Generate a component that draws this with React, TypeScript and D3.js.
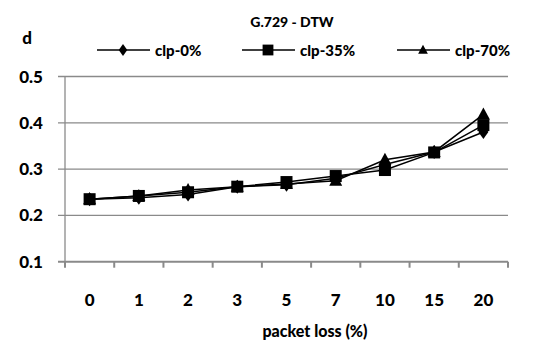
import React from 'react';
import * as d3 from 'd3';

const categories = ['0', '1', '2', '3', '5', '7', '10', '15', '20'];
const clp0 = [0.235, 0.238, 0.245, 0.262, 0.266, 0.28, 0.31, 0.337, 0.38];
const clp35 = [0.235, 0.242, 0.25, 0.262, 0.272, 0.285, 0.298, 0.336, 0.395];
const clp70 = [0.235, 0.242, 0.255, 0.262, 0.268, 0.275, 0.32, 0.337, 0.418];
const seriesNames = ['clp-0%', 'clp-35%', 'clp-70%'];
const yTicks = [0.1, 0.2, 0.3, 0.4, 0.5];

const W = 533;
const H = 342;
const FONT = 'Lato, "Open Sans", sans-serif';

function Marker({ kind, x, y, s = 1 }: { kind: number; x: number; y: number; s?: number }) {
  if (kind === 0) {
    const p = d3.path();
    p.moveTo(x, y - 7 * s);
    p.lineTo(x + 5 * s, y);
    p.lineTo(x, y + 7 * s);
    p.lineTo(x - 5 * s, y);
    p.closePath();
    return <path d={p.toString()} fill="#000" />;
  }
  if (kind === 1) {
    return <rect x={x - 6 * s} y={y - 6 * s} width={12 * s} height={12 * s} fill="#000" />;
  }
  const p = d3.path();
  p.moveTo(x, y - 7 * s);
  p.lineTo(x + 6.5 * s, y + 5 * s);
  p.lineTo(x - 6.5 * s, y + 5 * s);
  p.closePath();
  return <path d={p.toString()} fill="#000" />;
}

export default function App() {
  const series = [clp0, clp35, clp70];
  const x = d3.scaleBand<string>().domain(categories).range([65, 508]).paddingInner(0).paddingOuter(0);
  const y = d3.scaleLinear().domain([0.1, 0.5]).range([261.7, 76.5]);
  const cx = (c: string) => (x(c) as number) + x.bandwidth() / 2;
  const line = d3.line<number>().x((_, i) => cx(categories[i])).y(d => y(d));

  const legendX = [123, 268, 423];
  const legendScale = [0.85, 0.9, 0.75];

  return (
    <svg width={W} height={H} style={{ position: 'absolute', left: 0, top: 0, background: '#fff' }}>
      <text x={292} y={27} textAnchor="middle" fontFamily={FONT} fontWeight="900" fontSize={14}>G.729 - DTW</text>
      <text x={27} y={44} textAnchor="middle" fontFamily={FONT} fontWeight="900" fontSize={17}>d</text>

      {/* legend */}
      {seriesNames.map((name, i) => (
        <g key={name}>
          <line x1={legendX[i] - 26} x2={legendX[i] + 27} y1={50} y2={50} stroke="#000" strokeWidth={1.5} />
          <Marker kind={i} x={legendX[i]} y={50} s={legendScale[i]} />
          <text x={legendX[i] + 32} y={55.5} fontFamily={FONT} fontWeight="900" fontSize={15}>{name}</text>
        </g>
      ))}

      {/* grid + y axis */}
      {yTicks.map(t => (
        <g key={t}>
          <line x1={58} x2={508} y1={y(t)} y2={y(t)} stroke="#8a8a8a" strokeWidth={t === 0.1 ? 2 : 1.3} />
          <text x={43} y={y(t) + 6} textAnchor="end" fontFamily={FONT} fontWeight="900" fontSize={17}>{t.toFixed(1)}</text>
        </g>
      ))}
      <line x1={65} x2={65} y1={y(0.5)} y2={y(0.1)} stroke="#8a8a8a" strokeWidth={1.3} />

      {/* x ticks */}
      {categories.concat(['end']).map((c, i) => {
        const xx = i < categories.length ? (x(c) as number) : 508;
        return <line key={c} x1={xx} x2={xx} y1={y(0.1)} y2={y(0.1) + 6} stroke="#8a8a8a" strokeWidth={2} />;
      })}
      {categories.map(c => (
        <text key={c} x={cx(c)} y={306} textAnchor="middle" fontFamily={FONT} fontWeight="900" fontSize={17}>{c}</text>
      ))}
      <text x={315} y={337} textAnchor="middle" fontFamily={FONT} fontWeight="900" fontSize={16}>packet loss (%)</text>

      {/* series */}
      {series.map((s, i) => (
        <path key={i} d={line(s) || ''} fill="none" stroke="#000" strokeWidth={1.5} />
      ))}
      {series.map((s, i) => (
        <g key={i}>
          {s.map((v, j) => (
            <Marker key={j} kind={i} x={cx(categories[j])} y={y(v)} />
          ))}
        </g>
      ))}
    </svg>
  );
}
